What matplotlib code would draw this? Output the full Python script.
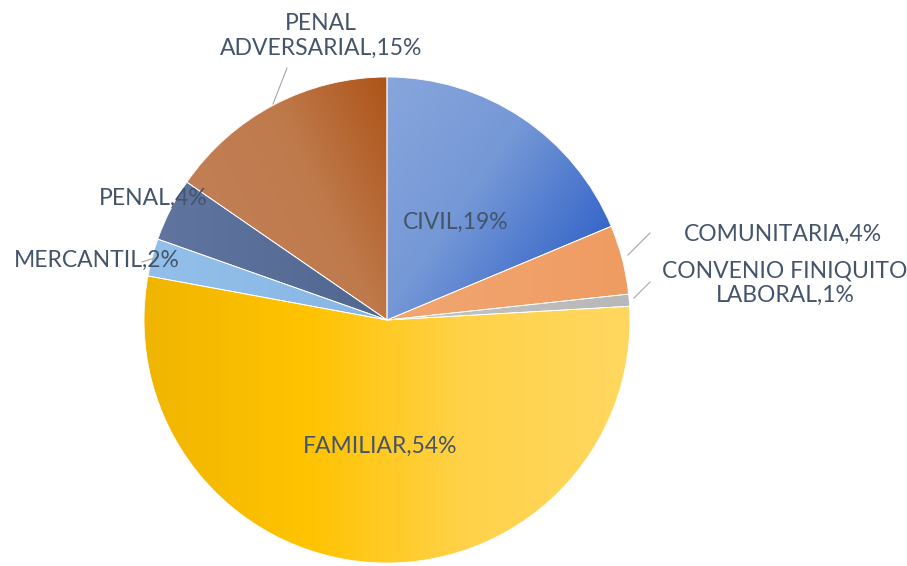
import numpy as np
import matplotlib.pyplot as plt
from matplotlib.patches import Wedge
from matplotlib.colors import LinearSegmentedColormap

# slice data, clockwise from 12 o'clock
labels = ["CIVIL", "COMUNITARIA", "CONVENIO FINIQUITO\nLABORAL", "FAMILIAR",
          "MERCANTIL", "PENAL", "PENAL\nADVERSARIAL"]
shares = [18.7, 4.6, 0.8, 53.8, 2.5, 4.2, 15.4]
pct_text = [19, 4, 1, 54, 2, 4, 15]

# gradient stops and direction (degrees) per slice
grad_stops = [
    ["#88a6dd", "#7598d6", "#3767c9"],
    ["#f2a672", "#ef9c62"],
    ["#c4c4c4", "#b8b8b8"],
    ["#f0b500", "#ffc300", "#ffd24a", "#ffd860"],
    ["#93c0ea", "#86b6e4"],
    ["#5f75a0", "#52678f"],
    ["#c27f55", "#bf7a4c", "#ad5418"],
]
grad_dir = [-35, 0, 0, 0, 0, 0, 25]

W, H = 907, 566
cx, cy, R = 387, H - 320, 243

fig = plt.figure(figsize=(W / 100, H / 100), dpi=100)
ax = fig.add_axes([0, 0, 1, 1])

wedges, _ = ax.pie(shares, startangle=90, counterclock=False, center=(cx, cy),
                   radius=R, colors=[s[0] for s in grad_stops],
                   wedgeprops=dict(edgecolor="white", linewidth=0.6))

# gradient fill clipped to each wedge
ext = (cx - R, cx + R, cy - R, cy + R)
xs = np.linspace(ext[0], ext[1], 400)
ys = np.linspace(ext[2], ext[3], 400)
X, Y = np.meshgrid(xs, ys)
for w, stops, ang in zip(wedges, grad_stops, grad_dir):
    a = np.deg2rad(ang)
    proj = X * np.cos(a) + Y * np.sin(a)
    v = w.get_path().vertices
    pv = v[:, 0] * np.cos(a) + v[:, 1] * np.sin(a)
    t = np.clip((proj - pv.min()) / (pv.max() - pv.min() + 1e-9), 0, 1)
    cmap = LinearSegmentedColormap.from_list("g", stops)
    im = ax.imshow(t, extent=ext, origin="lower", cmap=cmap, vmin=0, vmax=1,
                   interpolation="bilinear", zorder=w.get_zorder() + 0.1)
    im.set_clip_path(w)

# thin white separators on top
for w in wedges:
    ax.add_patch(Wedge(w.center, w.r, w.theta1, w.theta2, facecolor="none",
                       edgecolor="white", linewidth=0.6, zorder=5))

txt = "#44546a"
fnt = dict(fontsize=16.5, color=txt, family="Lato", zorder=10)
# label positions in pixel coords (x, y from top)
label_pos = [(456, 222), (783, 234), (785, 283), (380, 446),
             (97, 260), (153, 198), (321, 36)]
for lab, p, (x, y) in zip(labels, pct_text, label_pos):
    ax.text(x, H - y, f"{lab},{p}%", ha="center", va="center",
            linespacing=1.2, **fnt)

# leader lines
leaders = [((650, 233), (628, 255)), ((650, 282), (634, 298)),
           ((287, 68), (273, 104)), ((142, 262), (158, 257))]
for (x0, y0), (x1, y1) in leaders:
    ax.plot([x0, x1], [H - y0, H - y1], color="#a6a6a6", lw=0.8, zorder=9)

ax.set_xlim(0, W)
ax.set_ylim(0, H)
ax.set_aspect("auto")
ax.axis("off")
fig.savefig("out.png", dpi=100, facecolor="white")
